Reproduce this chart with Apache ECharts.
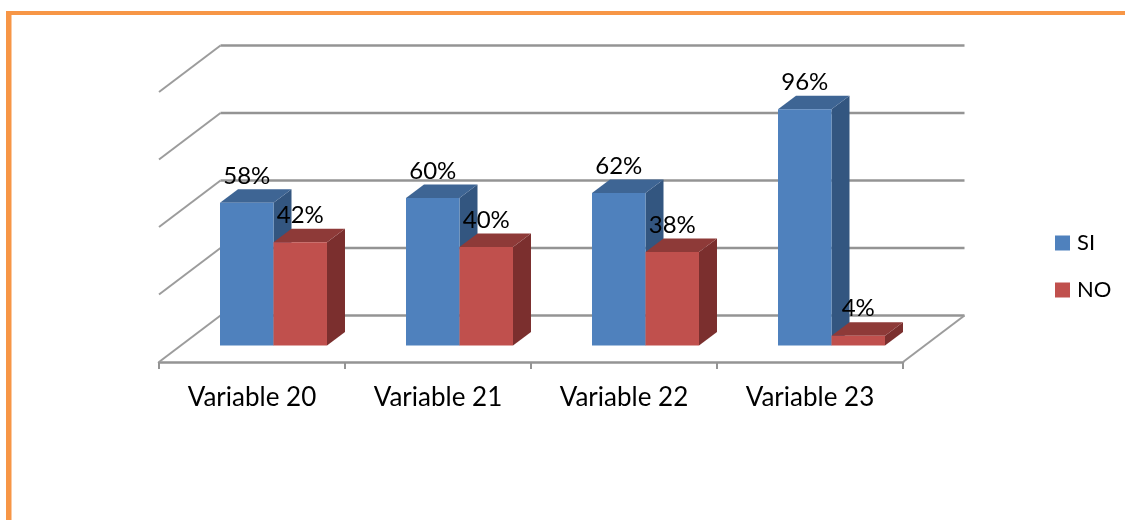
<!DOCTYPE html>
<html>
<head>
<meta charset="utf-8">
<style>html,body{margin:0;padding:0;background:#fff}#chart{width:1125px;height:520px}</style>
<script src="https://cdn.jsdelivr.net/npm/echarts@6/dist/echarts.min.js"></script>
</head>
<body>
<div id="chart"></div>
<script>
const categories = ['Variable 20', 'Variable 21', 'Variable 22', 'Variable 23'];
const seriesNames = ['SI', 'NO'];
const siValues = [58, 60, 62, 96];
const noValues = [42, 40, 38, 4];
const wallTicks = [0, 25, 50, 75, 100];

const FONT = 'Lato, "Open Sans", sans-serif';
const palettes = [
  { front: '#4F81BD', top: '#3E6594', side: '#335680' },
  { front: '#C0504D', top: '#8E3A38', side: '#7B2F2E' }
];
// Oblique projection offsets for the bars and for the chart walls
const barDepth = { dx: 18, dy: -13.5 };
const wallDepth = { dx: 61.5, dy: -46.5 };
const barShare = 0.2876;

function renderWall(params, api) {
  const rect = params.coordSys;
  const y = api.coord([0, api.value(1)])[1];
  const x0 = rect.x;
  const x1 = rect.x + rect.width;
  const children = [
    { type: 'line', shape: { x1: x0, y1: y, x2: x0 + wallDepth.dx, y2: y + wallDepth.dy },
      style: { stroke: '#9c9c9c', lineWidth: 2 } },
    { type: 'line', shape: { x1: x0 + wallDepth.dx, y1: y + wallDepth.dy, x2: x1 + wallDepth.dx, y2: y + wallDepth.dy },
      style: { stroke: '#949494', lineWidth: 2.5 } }
  ];
  if (api.value(1) === 0) {
    children.push({ type: 'line', shape: { x1: x1, y1: y, x2: x1 + wallDepth.dx, y2: y + wallDepth.dy },
      style: { stroke: '#9c9c9c', lineWidth: 2 } });
  }
  return { type: 'group', children };
}

function barRenderer(seriesPos, palette) {
  return function (params, api) {
    const cat = api.value(0);
    const val = api.value(1);
    const topPt = api.coord([cat, val]);
    const basePt = api.coord([cat, 0]);
    const w = api.size([1, 0])[0] * barShare;
    const l = topPt[0] + (seriesPos - 1) * w;
    const r = l + w;
    const t = topPt[1];
    const b = basePt[1];
    const { dx, dy } = barDepth;
    return {
      type: 'group',
      children: [
        { type: 'polygon', shape: { points: [[r, t], [r + dx, t + dy], [r + dx, b + dy], [r, b]] },
          style: { fill: palette.side } },
        { type: 'polygon', shape: { points: [[l, t], [l + dx, t + dy], [r + dx, t + dy], [r, t]] },
          style: { fill: palette.top } },
        { type: 'polygon', shape: { points: [[l, t], [r, t], [r, b], [l, b]] },
          style: { fill: palette.front } },
        { type: 'text', z2: 10,
          style: { x: (l + r) / 2, y: t - 27, text: val + '%', fill: '#000', font: '24px ' + FONT,
                   textAlign: 'center', textVerticalAlign: 'middle' } }
      ]
    };
  };
}

function barSeries(pos, values) {
  return {
    name: seriesNames[pos],
    type: 'custom',
    coordinateSystem: 'cartesian2d',
    xAxisIndex: 1,
    yAxisIndex: 1,
    clip: false,
    z: 5 + pos,
    itemStyle: { color: palettes[pos].front },
    encode: { x: 0, y: 1 },
    data: values.map((v, i) => [i, v]),
    renderItem: barRenderer(pos, palettes[pos])
  };
}

const chart = echarts.init(document.getElementById('chart'), null, { renderer: 'canvas' });
chart.setOption({
  animation: false,
  backgroundColor: '#fff',
  textStyle: { fontFamily: FONT },
  graphic: [
    { type: 'rect', shape: { x: 6, y: 11, width: 1119, height: 4 }, style: { fill: '#F79646' }, silent: true },
    { type: 'rect', shape: { x: 6, y: 11, width: 5.5, height: 509 }, style: { fill: '#F79646' }, silent: true }
  ],
  grid: [
    { left: 159, width: 744, top: 92, height: 270 },
    { left: 180.5, width: 744, top: 99.5, height: 246 }
  ],
  xAxis: [
    { type: 'category', gridIndex: 0, data: categories,
      axisLine: { lineStyle: { color: '#949494', width: 2.5 } },
      axisTick: { show: true, length: 7, lineStyle: { color: '#949494', width: 2 } },
      axisLabel: { color: '#000', fontSize: 26, fontFamily: FONT, margin: 23 } },
    { type: 'category', gridIndex: 1, data: categories, show: false }
  ],
  yAxis: [
    { type: 'value', gridIndex: 0, min: 0, max: 100, interval: 25, show: false },
    { type: 'value', gridIndex: 1, min: 0, max: 100, interval: 25, show: false }
  ],
  legend: {
    orient: 'vertical',
    left: 1050,
    top: 227,
    icon: 'rect',
    itemWidth: 15,
    itemHeight: 15,
    itemGap: 25,
    data: seriesNames,
    textStyle: { color: '#000', fontSize: 22, fontFamily: FONT, padding: [0, 0, 0, 2] },
    selectedMode: false
  },
  series: [
    {
      type: 'custom',
      coordinateSystem: 'cartesian2d',
      xAxisIndex: 0,
      yAxisIndex: 0,
      clip: false,
      z: 1,
      silent: true,
      encode: { x: 0, y: 1 },
      data: wallTicks.map(t => [0, t]),
      renderItem: renderWall
    },
    barSeries(0, siValues),
    barSeries(1, noValues)
  ]
});
</script>
</body>
</html>
